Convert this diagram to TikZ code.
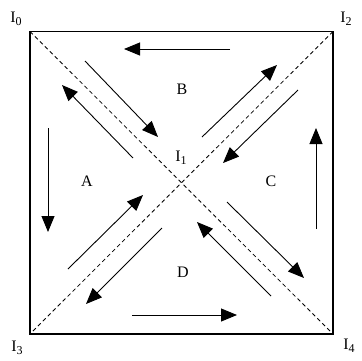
\documentclass[tikz,border=0pt]{standalone}
\usepackage{fontspec}
\setmainfont{Liberation Serif}
\usetikzlibrary{arrows.meta}
\begin{document}
\begin{tikzpicture}[x=1pt,y=-1pt,
  lbl/.style={inner sep=0pt, font=\fontsize{16}{18}\selectfont},
  flow/.style={line width=0.9pt, -{Triangle[length=16pt,width=13pt]}},
  diag/.style={line width=0.8pt, dash pattern=on 4pt off 3pt},
  frame/.style={line width=1.6pt}]
\useasboundingbox (0,0) rectangle (362,360);
\fill[white] (0,0) rectangle (362,360);
% corners
\coordinate (c0) at (30,31.5);
\coordinate (c2) at (333,31.5);
\coordinate (c3) at (30,334);
\coordinate (c4) at (333,334);
\draw[frame] (c0) -- (c2) -- (c4) -- (c3) -- cycle;
\draw[diag] (c0) -- (c4);
\draw[diag] (c2) -- (c3);
% labels
\newcommand{\Ilab}[1]{I{\fontsize{12}{14}\selectfont\raisebox{-0.5ex}{#1}}}
\node[lbl] (l0) at (16,19) {\Ilab{0}};
\node[lbl] (l2) at (346,19) {\Ilab{2}};
\node[lbl] (l1) at (181,158) {\Ilab{1}};
\node[lbl] (l3) at (17,348) {\Ilab{3}};
\node[lbl] (l4) at (349,346) {\Ilab{4}};
\node[lbl] (A) at (87,181) {A};
\node[lbl] (B) at (182,89) {B};
\node[lbl] (C) at (271,181) {C};
\node[lbl] (D) at (183,272) {D};
% straight arrows
\coordinate (t1) at (230,49); \coordinate (t2) at (124,49);
\coordinate (lf1) at (48,128); \coordinate (lf2) at (48,232);
\coordinate (b1) at (132,315); \coordinate (b2) at (237,315);
\coordinate (r1) at (316,229); \coordinate (r2) at (316,128);
\draw[flow] (t1) -- (t2);
\draw[flow] (lf1) -- (lf2);
\draw[flow] (b1) -- (b2);
\draw[flow] (r1) -- (r2);
% diagonal arrows
\coordinate (d1a) at (85,61);   \coordinate (d1b) at (158,137);
\coordinate (d2a) at (133,158); \coordinate (d2b) at (62,85);
\coordinate (d3a) at (202,137); \coordinate (d3b) at (277,65);
\coordinate (d4a) at (298,90);  \coordinate (d4b) at (223,163);
\coordinate (d5a) at (68,269);  \coordinate (d5b) at (143,195);
\coordinate (d6a) at (162,228); \coordinate (d6b) at (86,304);
\coordinate (d7a) at (227,202); \coordinate (d7b) at (304,278);
\coordinate (d8a) at (271,296); \coordinate (d8b) at (197,222);
\foreach \i in {1,...,8} {\draw[flow] (d\i a) -- (d\i b);}
\end{tikzpicture}
\end{document}
